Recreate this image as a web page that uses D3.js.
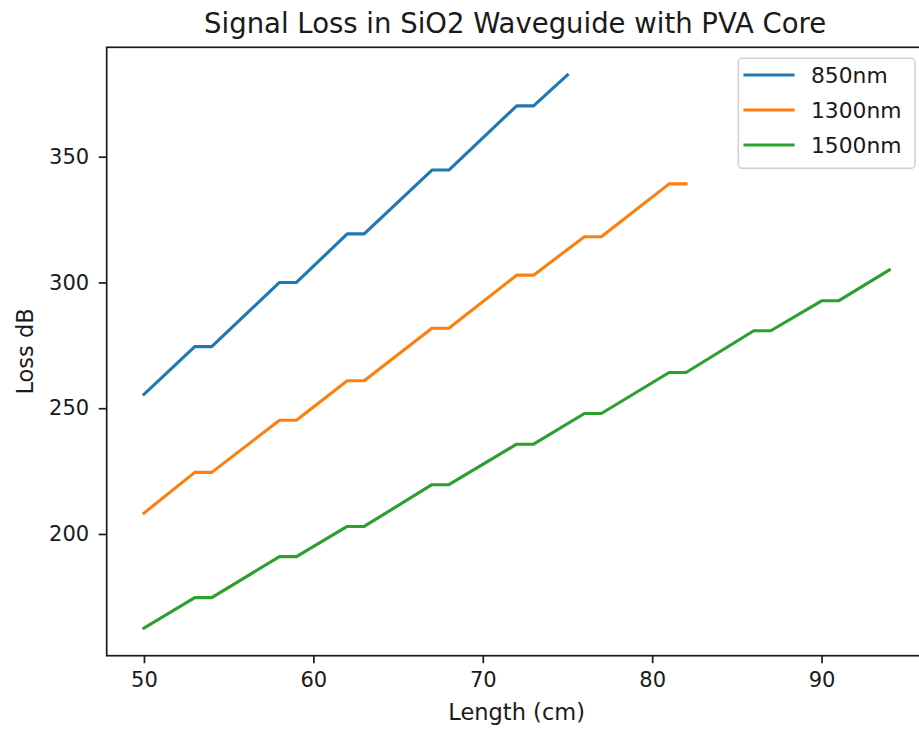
<!DOCTYPE html>
<html>
<head>
<meta charset="utf-8">
<script src="https://cdn.jsdelivr.net/npm/d3@7"></script>
<style>
  html, body { margin: 0; padding: 0; background: #fff; }
  svg { display: block; }
  text { font-family: "DejaVu Sans", sans-serif; fill: #1a1a1a; }
</style>
</head>
<body>
<svg id="chart" width="919" height="730"></svg>
<script>
// ---- data ----
const seriesNames = ["850nm", "1300nm", "1500nm"];
const colors = ["#1f77b4", "#ff7f0e", "#2ca02c"];

const x850 = [50, 53, 54, 58, 59, 62, 63, 67, 68, 72, 73, 75];
const y850 = [255.5, 274.5, 274.5, 300.0, 300.0, 319.3, 319.3, 344.7, 344.7, 370.2, 370.2, 382.5];

const x1300 = [50, 53, 54, 58, 59, 62, 63, 67, 68, 72, 73, 76, 77, 81, 82];
const y1300 = [208.3, 224.5, 224.5, 245.2, 245.2, 260.9, 260.9, 281.8, 281.8, 302.9, 302.9, 318.2, 318.2, 339.2, 339.2];

const x1500 = [50, 53, 54, 58, 59, 62, 63, 67, 68, 72, 73, 76, 77, 81, 82, 86, 87, 90, 91, 94];
const y1500 = [162.6, 174.7, 174.7, 191.0, 191.0, 203.0, 203.0, 219.6, 219.6, 235.7, 235.7, 247.9, 247.9, 264.2, 264.2, 280.8, 280.8, 292.7, 292.7, 305.0];

const xTicks = [50, 60, 70, 80, 90];
const yTicks = [200, 250, 300, 350];

const titleText = "Signal Loss in SiO2 Waveguide with PVA Core";
const xLabel = "Length (cm)";
const yLabel = "Loss dB";

// ---- layout ----
const plot = { left: 106.7, right: 926.6, top: 47.3, bottom: 655.7 };

const series = [
  { name: seriesNames[0], color: colors[0], pts: x850.map((v, i) => [v, y850[i]]) },
  { name: seriesNames[1], color: colors[1], pts: x1300.map((v, i) => [v, y1300[i]]) },
  { name: seriesNames[2], color: colors[2], pts: x1500.map((v, i) => [v, y1500[i]]) }
];

// matplotlib-like 5% margins
const allX = series.flatMap(s => s.pts.map(p => p[0]));
const allY = series.flatMap(s => s.pts.map(p => p[1]));
const [x0, x1] = d3.extent(allX);
const [y0, y1] = d3.extent(allY);
const mx = (x1 - x0) * 0.05, my = (y1 - y0) * 0.05;

const x = d3.scaleLinear().domain([x0 - mx, x1 + mx]).range([plot.left, plot.right]);
const y = d3.scaleLinear().domain([y0 - my, y1 + my]).range([plot.bottom, plot.top]);

const svg = d3.select("#chart");

// lines
const line = d3.line().x(d => x(d[0])).y(d => y(d[1]));
svg.append("g").selectAll("path")
  .data(series)
  .join("path")
  .attr("d", d => line(d.pts))
  .attr("fill", "none")
  .attr("stroke", d => d.color)
  .attr("stroke-width", 3.1)
  .attr("stroke-linecap", "square")
  .attr("stroke-linejoin", "round");

// axes
const xAxis = d3.axisBottom(x).tickValues(xTicks).tickFormat(d3.format("d"))
  .tickSize(7.5).tickSizeOuter(0).tickPadding(9);
const yAxis = d3.axisLeft(y).tickValues(yTicks).tickFormat(d3.format("d"))
  .tickSize(8).tickSizeOuter(0).tickPadding(9.5);

const gx = svg.append("g").attr("transform", `translate(0,${plot.bottom})`).call(xAxis);
const gy = svg.append("g").attr("transform", `translate(${plot.left},0)`).call(yAxis);
[gx, gy].forEach(g => {
  g.select(".domain").remove();
  g.selectAll(".tick line").attr("stroke", "#1a1a1a").attr("stroke-width", 1.7);
  g.selectAll(".tick text").style("font-family", "DejaVu Sans, sans-serif")
    .style("font-size", "21px").attr("fill", "#1a1a1a");
});

// frame (spines)
svg.append("rect")
  .attr("x", plot.left).attr("y", plot.top)
  .attr("width", plot.right - plot.left).attr("height", plot.bottom - plot.top)
  .attr("fill", "none").attr("stroke", "#1a1a1a").attr("stroke-width", 1.7);

// title and labels
svg.append("text")
  .attr("x", (plot.left + plot.right) / 2 - 1.5).attr("y", 32.5)
  .attr("text-anchor", "middle").style("font-size", "27.5px")
  .text(titleText);

svg.append("text")
  .attr("x", (plot.left + plot.right) / 2).attr("y", 719.5)
  .attr("text-anchor", "middle").style("font-size", "22.5px")
  .text(xLabel);

svg.append("text")
  .attr("transform", `translate(32.5,${(plot.top + plot.bottom) / 2}) rotate(-90)`)
  .attr("text-anchor", "middle").style("font-size", "22.5px")
  .text(yLabel);

// legend
const lg = svg.append("g");
lg.append("rect")
  .attr("x", 738.3).attr("y", 58.3).attr("width", 176.7).attr("height", 110)
  .attr("rx", 4).attr("fill", "#fff").attr("fill-opacity", 0.8)
  .attr("stroke", "#d0d0d0").attr("stroke-width", 1.5);
const rows = lg.selectAll("g.row").data(series).join("g")
  .attr("class", "row")
  .attr("transform", (d, i) => `translate(0,${75 + i * 35})`);
rows.append("line")
  .attr("x1", 745).attr("x2", 793).attr("y1", 0).attr("y2", 0)
  .attr("stroke", d => d.color).attr("stroke-width", 3.1).attr("stroke-linecap", "square");
rows.append("text")
  .attr("x", 811).attr("y", 7.8).style("font-size", "21.8px")
  .text(d => d.name);
</script>
</body>
</html>
